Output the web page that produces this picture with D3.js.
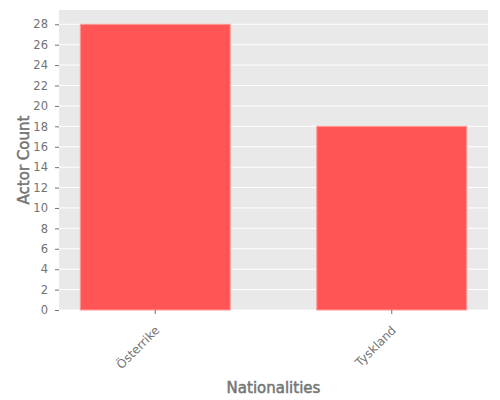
<!DOCTYPE html>
<html>
<head>
<meta charset="utf-8">
<script src="https://cdn.jsdelivr.net/npm/d3@7"></script>
<style>
  body { margin: 0; background: #fff; }
  svg { font-family: "DejaVu Sans", sans-serif; }
</style>
</head>
<body>
<svg id="chart" width="500" height="400"></svg>
<script>
var nationalities = ['Österrike', 'Tyskland'];
var actorCounts = [28, 18];
var yTicks = [0, 2, 4, 6, 8, 10, 12, 14, 16, 18, 20, 22, 24, 26, 28];

var margin = {top: 10, right: 12, bottom: 90, left: 59};
var width = 500 - margin.left - margin.right;
var height = 400 - margin.top - margin.bottom;
var tickColor = '#737373';
var labelColor = '#757575';

var svg = d3.select('#chart');
var g = svg.append('g')
    .attr('transform', 'translate(' + margin.left + ',' + margin.top + ')');

// plot background
g.append('rect')
    .attr('width', width)
    .attr('height', height)
    .style('fill', '#e9e9e9');

var x = d3.scaleBand()
    .domain(nationalities)
    .range([0, width])
    .paddingInner(0.366)
    .paddingOuter(0.09);

var y = d3.scaleLinear()
    .domain([0, d3.max(actorCounts) * 1.05])
    .range([height, 0]);

// grid lines
g.selectAll('line.grid')
    .data(yTicks)
    .enter().append('line')
    .attr('class', 'grid')
    .attr('x1', 0)
    .attr('x2', width)
    .attr('y1', function (d) { return y(d); })
    .attr('y2', function (d) { return y(d); })
    .style('stroke', '#ffffff')
    .style('stroke-width', 1);

// bars
g.selectAll('rect.bar')
    .data(actorCounts)
    .enter().append('rect')
    .attr('class', 'bar')
    .attr('x', function (d, i) { return x(nationalities[i]); })
    .attr('y', function (d) { return y(d); })
    .attr('width', x.bandwidth())
    .attr('height', function (d) { return height - y(d); })
    .style('fill', '#ff5555')
    .style('stroke', '#ff9a9a')
    .style('stroke-width', 1);

// y axis
var yAxis = g.append('g')
    .call(d3.axisLeft(y).tickValues(yTicks).tickSize(4).tickPadding(7));
yAxis.select('.domain').remove();
yAxis.selectAll('.tick line').style('stroke', tickColor);
yAxis.selectAll('.tick text')
    .style('fill', tickColor)
    .style('font-size', '11.5px')
    .style('font-family', '"DejaVu Sans", sans-serif');

// x axis
var xAxis = g.append('g')
    .attr('transform', 'translate(0,' + height + ')')
    .call(d3.axisBottom(x).tickSize(4).tickPadding(4));
xAxis.select('.domain').remove();
xAxis.selectAll('.tick line').style('stroke', tickColor);
xAxis.selectAll('.tick text')
    .attr('x', 0)
    .attr('y', 0)
    .attr('dy', 0)
    .attr('transform', 'translate(5,21) rotate(-45)')
    .style('text-anchor', 'end')
    .style('fill', tickColor)
    .style('font-size', '12px')
    .style('font-family', '"DejaVu Sans", sans-serif');

// axis labels
svg.append('text')
    .attr('x', margin.left + width / 2)
    .attr('y', 393)
    .attr('text-anchor', 'middle')
    .style('font-size', '15px')
    .style('fill', labelColor)
    .style('stroke', labelColor)
    .style('stroke-width', 0.5)
    .text('Nationalities');

svg.append('text')
    .attr('transform', 'translate(29,' + (margin.top + height / 2) + ') rotate(-90)')
    .attr('text-anchor', 'middle')
    .style('font-size', '15px')
    .style('fill', labelColor)
    .style('stroke', labelColor)
    .style('stroke-width', 0.5)
    .text('Actor Count');
</script>
</body>
</html>
